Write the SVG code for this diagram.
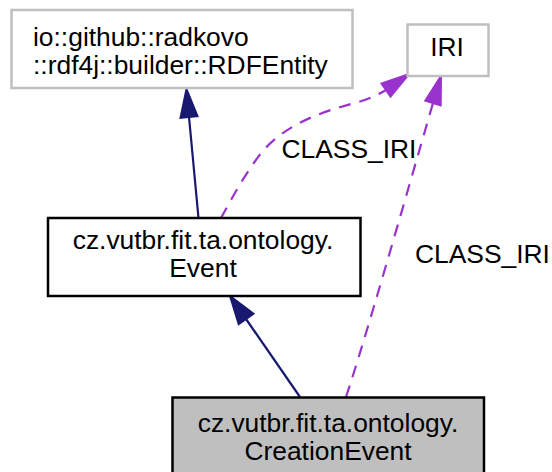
<svg xmlns="http://www.w3.org/2000/svg" width="552" height="472" viewBox="0 0 552 472">
<style>
text{font-family:"Liberation Sans",Arial,sans-serif;font-size:26.4px;fill:#000}
.c{text-anchor:middle}
.grey{fill:#fff;stroke:#bfbfbf;stroke-width:2.5}
.blk{fill:#fff;stroke:#000;stroke-width:2.5}
.cur{fill:#bfbfbf;stroke:#000;stroke-width:2.5}
.inh{fill:none;stroke:#191970;stroke-width:2.2}
.inhh{fill:#191970;stroke:#191970;stroke-width:2}
.use{fill:none;stroke:#9a32cd;stroke-width:2.2;stroke-dasharray:12,9}
.useh{fill:#9a32cd;stroke:#9a32cd;stroke-width:2}
</style>
<rect width="552" height="472" fill="#fff"/>
<g id="edges">
<path class="inh" d="M198.5,218 L189,117"/>
<polygon class="inhh" points="186.5,89 197.5,116.2 180.5,117.8"/>
<path class="inh" d="M300,397 L246,319"/>
<polygon class="inhh" points="230,296 253.5,313.7 238.7,324.1"/>
<path class="use" d="M221,218 C232,198 246,172 262,152 C285,125 320,112 355,103 C366,100 376,96 386,90"/>
<polygon class="useh" points="409,74 390.5,96.6 381.5,83.4"/>
<text x="281.5" y="158">CLASS_IRI</text>
<path class="use" d="M346,397 C365,340 405,200 433,103"/>
<polygon class="useh" points="441,76 440.7,105.3 425.3,100.7"/>
<text x="415" y="263">CLASS_IRI</text>
</g>
<g id="node-rdfentity">
<rect class="grey" x="11.5" y="10" width="341" height="78"/>
<text x="33" y="46">io::github::radkovo</text>
<text x="33" y="74">::rdf4j::builder::RDFEntity</text>
</g>
<g id="node-iri">
<rect class="grey" x="407.5" y="24.5" width="81" height="51.5"/>
<text class="c" x="447" y="56">IRI</text>
</g>
<g id="node-event">
<rect class="blk" x="48" y="218" width="312.5" height="78"/>
<text class="c" x="203" y="249">cz.vutbr.fit.ta.ontology.</text>
<text class="c" x="203" y="277">Event</text>
</g>
<g id="node-creationevent">
<rect class="cur" x="172.5" y="397.5" width="311.5" height="80"/>
<text class="c" x="328" y="432">cz.vutbr.fit.ta.ontology.</text>
<text class="c" x="328" y="460">CreationEvent</text>
</g>
</svg>
